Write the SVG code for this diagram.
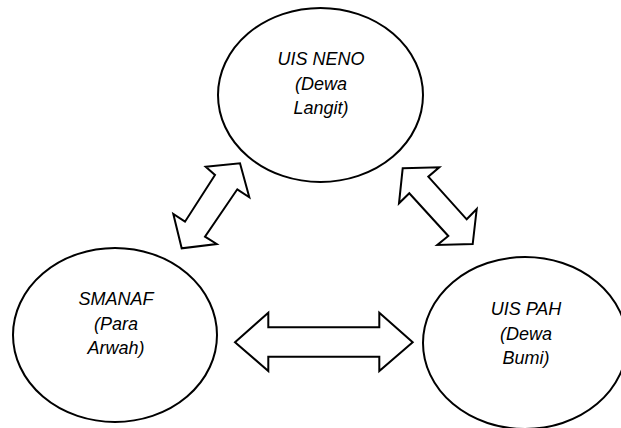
<svg xmlns="http://www.w3.org/2000/svg" width="621" height="428" viewBox="0 0 621 428">
<style>
.node{fill:#fff;stroke:#000;stroke-width:2}
.arr{fill:#fff;stroke:#000;stroke-width:2;stroke-linejoin:miter}
.t{font-family:"Liberation Sans",Arial,sans-serif;font-style:italic;font-size:18px;fill:#000;text-anchor:middle}
</style>
<rect width="621" height="428" fill="#fff"/>
<g id="uis-neno">
<ellipse class="node" cx="320.5" cy="95" rx="102.5" ry="87"/>
<text class="t" x="321" y="65">UIS NENO</text>
<text class="t" x="321" y="90">(Dewa</text>
<text class="t" x="321" y="114">Langit)</text>
</g>
<g id="smanaf">
<ellipse class="node" cx="115" cy="335" rx="102" ry="87"/>
<text class="t" x="116" y="305">SMANAF</text>
<text class="t" x="116" y="330">(Para</text>
<text class="t" x="116" y="354">Arwah)</text>
</g>
<g id="uis-pah">
<ellipse class="node" cx="525" cy="343" rx="102" ry="86"/>
<text class="t" x="526" y="315">UIS PAH</text>
<text class="t" x="526" y="340">(Dewa</text>
<text class="t" x="526" y="364">Bumi)</text>
</g>
<g id="connectors">
<polygon class="arr" points="205.7,166.7 240,163.3 249.3,197.3 237.3,189.3 205,236.7 216.7,244 181.7,248.3 173.3,214 185,221.7 215,175"/>
<polygon class="arr" points="402.7,168.3 439.3,167.3 428.3,176.7 466.7,219.3 476.7,209 472.7,244 437.3,245 448.3,236 409.3,193.3 399,203.3"/>
<polygon class="arr" points="235,342.3 268.3,312.7 268.3,327.3 379.3,327.3 379.3,312.7 412.7,342.3 379.3,371 379.3,356.7 268.3,356.7 268.3,371"/>
</g>
</svg>
